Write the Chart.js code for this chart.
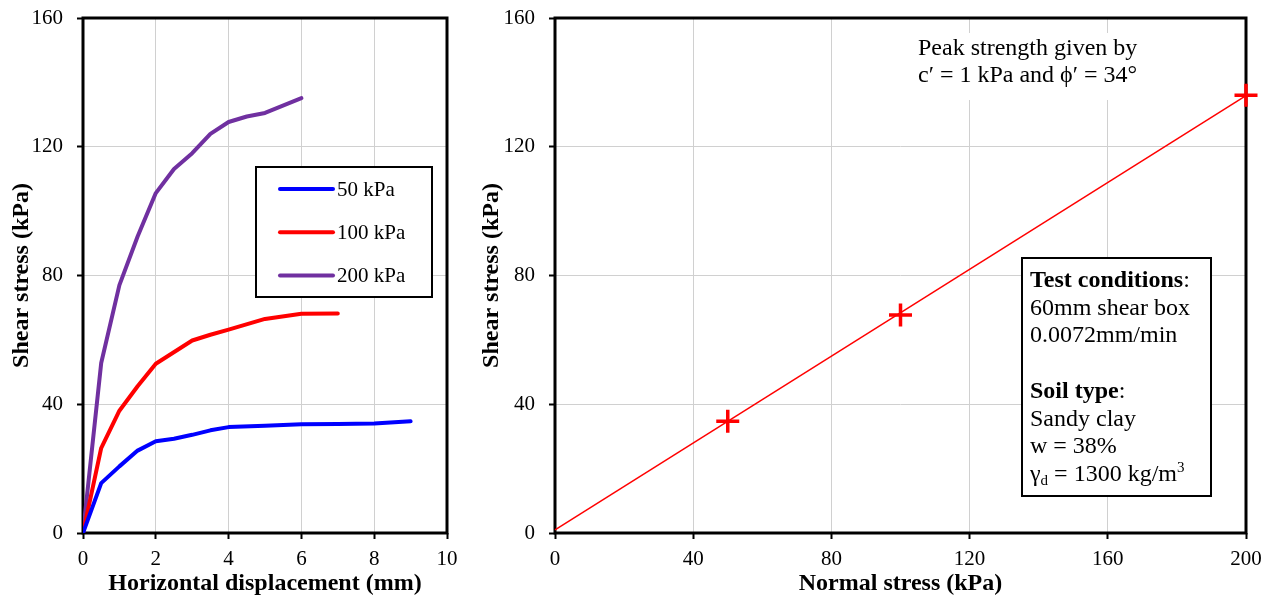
<!DOCTYPE html>
<html>
<head>
<meta charset="utf-8">
<script src="https://cdn.jsdelivr.net/npm/chart.js@4/dist/chart.umd.min.js"></script>
<style>
  body { margin: 0; background: #fff; }
  #curvas { position: absolute; left: 0; top: 0; }
  #envolvente { position: absolute; left: 470px; top: 0; }
</style>
</head>
<body>
<canvas id="curvas" width="470" height="598"></canvas>
<canvas id="envolvente" width="798" height="598"></canvas>
<script>
// shear box curves (horizontal displacement in mm, shear stress in kPa)
const disp50 = [0, 0.5, 1, 1.5, 2, 2.5, 3, 3.5, 4, 5, 6, 7, 8, 9];
const stress50 = [0, 15.5, 20.7, 25.6, 28.5, 29.3, 30.5, 31.9, 32.9, 33.3, 33.8, 33.9, 34, 34.7];

const disp100 = [0, 0.5, 1, 1.5, 2, 3, 3.5, 4, 5, 6, 7];
const stress100 = [0, 26.4, 38, 45.6, 52.6, 59.8, 61.6, 63.2, 66.5, 68.1, 68.2];

const disp200 = [0, 0.5, 1, 1.5, 2, 2.5, 3, 3.5, 4, 4.5, 5, 6];
const stress200 = [0, 52.8, 77, 92.1, 105.6, 113.1, 118, 124, 127.7, 129.4, 130.5, 135.1];

const curveLabels = ["50 kPa", "100 kPa", "200 kPa"];
const curveColors = ["#0000ff", "#ff0000", "#7030a0"];

// peak strengths and the failure envelope
const normalStress = [50, 100, 200];
const peakStress = [34.7, 67.7, 136];
const envelopeX = [0, 200];
const envelopeY = [1, 135.9];

const xTicksLeft = [0, 2, 4, 6, 8, 10];
const xTicksRight = [0, 40, 80, 120, 160, 200];
const yTicks = [0, 40, 80, 120, 160];

const peakText = ["Peak strength given by", "c\u2032 = 1 kPa and \u03d5\u2032 = 34\u00b0"];

const serif = "'Liberation Serif', 'Times New Roman', serif";
Chart.defaults.font.family = serif;
Chart.defaults.font.size = 21;
Chart.defaults.color = "#000";

function toPoints(xs, ys) {
  return xs.map((x, i) => ({ x: x, y: ys[i] }));
}

function axis(min, max, ticks, title, isX) {
  return {
    type: "linear",
    min: min,
    max: max,
    afterBuildTicks: s => { s.ticks = ticks.map(v => ({ value: v })); },
    ticks: { padding: isX ? 8 : 14, color: "#000" },
    grid: { color: "#d0d0d0", lineWidth: 1, tickColor: "#000", tickWidth: 2, tickLength: 6 },
    border: { display: false },
    title: {
      display: true,
      text: title,
      font: { size: 24, weight: "bold" },
      padding: isX ? { top: 0, bottom: 0 } : { top: 7, bottom: 0 },
    },
  };
}

// fixed axis sizes so the plot area sits where it should
function fitX(s) {
  s.height = 65;
  s.paddingLeft = 0;
  s.paddingRight = 0;
}
function fitY(width) {
  return s => {
    s.width = width;
    s.paddingTop = 0;
    s.paddingBottom = 0;
  };
}

// black frame round the plot area
const frame = {
  id: "frame",
  beforeDatasetsDraw(chart) {
    const a = chart.chartArea;
    const ctx = chart.ctx;
    ctx.save();
    ctx.strokeStyle = "#000";
    ctx.lineWidth = 3;
    ctx.strokeRect(a.left, a.top, a.right - a.left, a.bottom - a.top);
    ctx.restore();
  },
};

// legend box inside the left plot
const legendBox = {
  id: "legendBox",
  afterDraw(chart) {
    const a = chart.chartArea;
    const ctx = chart.ctx;
    const bx = a.left + 173, by = a.top + 149;
    ctx.save();
    ctx.fillStyle = "#fff";
    ctx.fillRect(bx, by, 176, 130);
    ctx.strokeStyle = "#000";
    ctx.lineWidth = 2;
    ctx.strokeRect(bx, by, 176, 130);
    ctx.font = "21px " + serif;
    ctx.textBaseline = "middle";
    chart.data.datasets.forEach((ds, i) => {
      const y = by + 22 + i * 43.3;
      ctx.strokeStyle = ds.borderColor;
      ctx.lineWidth = 4;
      ctx.lineCap = "round";
      ctx.beginPath();
      ctx.moveTo(bx + 24, y);
      ctx.lineTo(bx + 77, y);
      ctx.stroke();
      ctx.fillStyle = "#000";
      ctx.fillText(ds.label, bx + 81, y + 1);
    });
    ctx.restore();
  },
};

new Chart("curvas", {
  type: "line",
  data: {
    datasets: [
      { label: curveLabels[0], data: toPoints(disp50, stress50), borderColor: curveColors[0] },
      { label: curveLabels[1], data: toPoints(disp100, stress100), borderColor: curveColors[1] },
      { label: curveLabels[2], data: toPoints(disp200, stress200), borderColor: curveColors[2] },
    ],
  },
  options: {
    responsive: false,
    animation: false,
    datasets: { line: { borderWidth: 4, pointRadius: 0, fill: false, tension: 0, borderCapStyle: "round", borderJoinStyle: "round" } },
    layout: { padding: { top: 18, right: 23, left: 0, bottom: 0 } },
    plugins: { legend: { display: false }, tooltip: { enabled: false } },
    scales: {
      x: Object.assign(axis(0, 10, xTicksLeft, "Horizontal displacement (mm)", true), { afterFit: fitX }),
      y: Object.assign(axis(0, 160, yTicks, "Shear stress (kPa)", false), { afterFit: fitY(83) }),
    },
  },
  plugins: [frame, legendBox],
});

// text notes on the envelope plot
const notes = {
  id: "notes",
  afterDraw(chart) {
    const a = chart.chartArea;
    const ctx = chart.ctx;
    ctx.save();

    const normal = "24px " + serif;
    const bold = "bold 24px " + serif;
    const small = "15px " + serif;

    // peak strength note
    const px = a.left + 363, py = a.top + 37;
    ctx.fillStyle = "#fff";
    ctx.fillRect(px - 12, a.top + 15, 245, 67);
    ctx.fillStyle = "#000";
    ctx.font = normal;
    ctx.textBaseline = "alphabetic";
    ctx.fillText(peakText[0], px, py);
    ctx.fillText(peakText[1], px, py + 27);

    // test conditions box
    const bx = a.left + 467, by = a.top + 240;
    ctx.fillStyle = "#fff";
    ctx.fillRect(bx, by, 189, 238);
    ctx.strokeStyle = "#000";
    ctx.lineWidth = 2;
    ctx.strokeRect(bx, by, 189, 238);

    const tx = bx + 8;
    let y = by + 29;
    const step = 27.7;

    ctx.fillStyle = "#000";
    ctx.font = bold;
    ctx.fillText("Test conditions", tx, y);
    let w = ctx.measureText("Test conditions").width;
    ctx.font = normal;
    ctx.fillText(":", tx + w, y);
    y += step;
    ctx.fillText("60mm shear box", tx, y);
    y += step;
    ctx.fillText("0.0072mm/min", tx, y);
    y += step * 2;
    ctx.font = bold;
    ctx.fillText("Soil type", tx, y);
    w = ctx.measureText("Soil type").width;
    ctx.font = normal;
    ctx.fillText(":", tx + w, y);
    y += step;
    ctx.fillText("Sandy clay", tx, y);
    y += step;
    ctx.fillText("w = 38%", tx, y);
    y += step;
    ctx.fillText("\u03b3", tx, y);
    let cx = tx + ctx.measureText("\u03b3").width;
    ctx.font = small;
    ctx.fillText("d", cx, y + 4);
    cx += ctx.measureText("d").width;
    ctx.font = normal;
    ctx.fillText(" = 1300 kg/m", cx, y);
    cx += ctx.measureText(" = 1300 kg/m").width;
    ctx.font = small;
    ctx.fillText("3", cx, y - 9);

    ctx.restore();
  },
};

new Chart("envolvente", {
  type: "scatter",
  data: {
    datasets: [
      {
        label: "Envelope",
        data: toPoints(envelopeX, envelopeY),
        showLine: true,
        borderColor: "#ff0000",
        borderWidth: 1.5,
        pointRadius: 0,
      },
      {
        label: "Peak",
        data: toPoints(normalStress, peakStress),
        showLine: false,
        pointStyle: "cross",
        pointRadius: 11.5,
        borderColor: "#ff0000",
        borderWidth: 3.5,
      },
    ],
  },
  options: {
    responsive: false,
    animation: false,
    clip: false,
    layout: { padding: { top: 18, right: 22, left: 0, bottom: 0 } },
    plugins: { legend: { display: false }, tooltip: { enabled: false } },
    scales: {
      x: Object.assign(axis(0, 200, xTicksRight, "Normal stress (kPa)", true), { afterFit: fitX }),
      y: Object.assign(axis(0, 160, yTicks, "Shear stress (kPa)", false), { afterFit: fitY(85) }),
    },
  },
  plugins: [frame, notes],
});
</script>
</body>
</html>
